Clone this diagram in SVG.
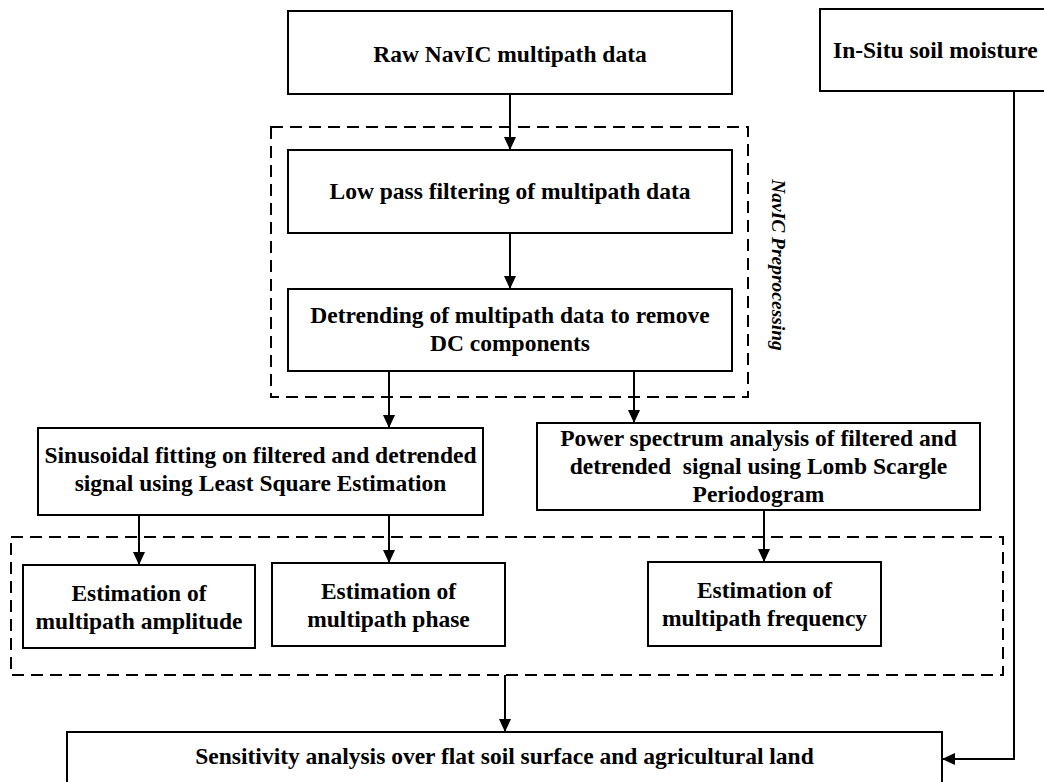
<svg xmlns="http://www.w3.org/2000/svg" width="1044" height="782" viewBox="0 0 1044 782">
<style>
.box{fill:#fff;stroke:#000;stroke-width:2}
.dash{fill:none;stroke:#000;stroke-width:2;stroke-dasharray:12 7}
.t{font-family:"Liberation Serif","Times New Roman",serif;font-weight:bold;font-size:23.5px;fill:#000;text-anchor:middle}
.c{stroke:#000;stroke-width:2;fill:none}
</style>
<defs>
<marker id="ah" markerWidth="13" markerHeight="13" viewBox="0 0 13 13" refX="13" refY="6.5" orient="auto" markerUnits="userSpaceOnUse">
<path d="M0,0.5 L13,6.5 L0,12.5 Z" fill="#000"/>
</marker>
</defs>
<rect width="1044" height="782" fill="#fff"/>
<g id="group-navic-preprocessing">
<rect class="dash" x="271" y="127" width="477" height="270"/>
<text x="772" y="265" transform="rotate(90 772 265)" style="font-family:'Liberation Serif','Times New Roman',serif;font-weight:bold;font-style:italic;font-size:19.5px;text-anchor:middle">NavIC Preprocessing</text>
</g>
<g id="group-estimation">
<rect class="dash" x="11" y="537" width="992" height="138"/>
</g>
<g id="raw">
<rect class="box" x="288" y="11" width="444" height="83"/>
<text class="t" x="510" y="62">Raw NavIC multipath data</text>
</g>
<g id="insitu">
<rect class="box" x="820" y="9" width="230" height="82"/>
<text class="t" x="833" y="58" style="text-anchor:start">In-Situ soil moisture</text>
</g>
<g id="lowpass">
<rect class="box" x="288" y="150" width="444" height="83"/>
<text class="t" x="510" y="199">Low pass filtering of multipath data</text>
</g>
<g id="detrend">
<rect class="box" x="288" y="289" width="444" height="82"/>
<text class="t" x="510" y="323">Detrending of multipath data to remove</text>
<text class="t" x="510" y="351">DC components</text>
</g>
<g id="sinusoidal">
<rect class="box" x="38" y="428" width="445" height="87"/>
<text class="t" x="260.5" y="463">Sinusoidal fitting on filtered and detrended</text>
<text class="t" x="260.5" y="491">signal using Least Square Estimation</text>
</g>
<g id="power">
<rect class="box" x="537" y="423" width="443" height="87"/>
<text class="t" x="758.5" y="446">Power spectrum analysis of filtered and</text>
<text class="t" x="758.5" y="474" xml:space="preserve">detrended  signal using Lomb Scargle</text>
<text class="t" x="758.5" y="502">Periodogram</text>
</g>
<g id="amplitude">
<rect class="box" x="23" y="565" width="232" height="83"/>
<text class="t" x="139" y="601">Estimation of</text>
<text class="t" x="139" y="629">multipath amplitude</text>
</g>
<g id="phase">
<rect class="box" x="272" y="563" width="233" height="83"/>
<text class="t" x="388.5" y="599">Estimation of</text>
<text class="t" x="388.5" y="627">multipath phase</text>
</g>
<g id="frequency">
<rect class="box" x="648" y="562" width="233" height="84"/>
<text class="t" x="764.5" y="598">Estimation of</text>
<text class="t" x="764.5" y="626">multipath frequency</text>
</g>
<g id="sensitivity">
<rect class="box" x="67" y="732" width="875" height="60"/>
<text class="t" x="504.5" y="764">Sensitivity analysis over flat soil surface and agricultural land</text>
</g>
<g id="connectors">
<line class="c" x1="510" y1="94" x2="510" y2="150" marker-end="url(#ah)"/>
<line class="c" x1="510" y1="233" x2="510" y2="289" marker-end="url(#ah)"/>
<line class="c" x1="389" y1="371" x2="389" y2="428" marker-end="url(#ah)"/>
<line class="c" x1="634" y1="371" x2="634" y2="423" marker-end="url(#ah)"/>
<line class="c" x1="139" y1="515" x2="139" y2="565" marker-end="url(#ah)"/>
<line class="c" x1="389" y1="515" x2="389" y2="563" marker-end="url(#ah)"/>
<line class="c" x1="764" y1="510" x2="764" y2="562" marker-end="url(#ah)"/>
<line class="c" x1="505" y1="675" x2="505" y2="732" marker-end="url(#ah)"/>
<polyline class="c" points="1014,91 1014,759 942,759" marker-end="url(#ah)"/>
</g>
</svg>
